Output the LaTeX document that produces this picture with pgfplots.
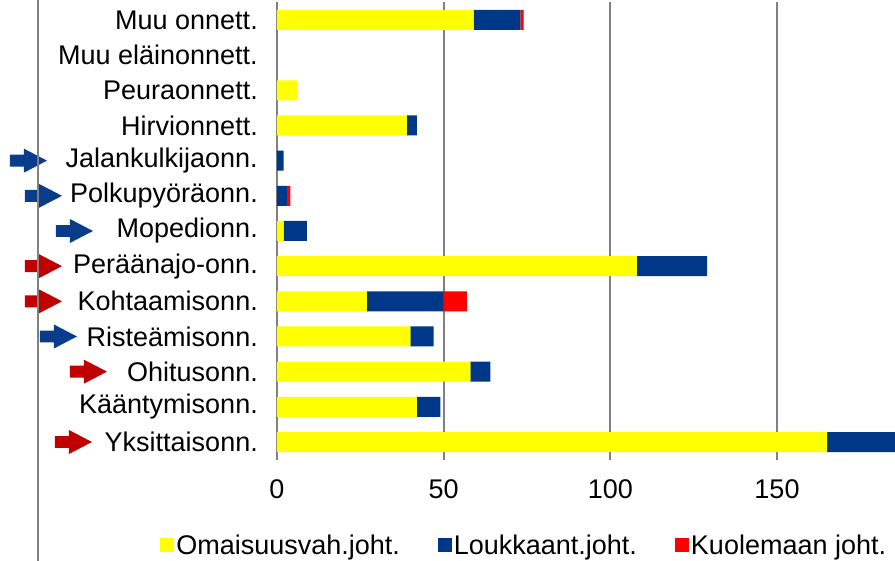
\documentclass[border=0pt]{standalone}
\usepackage{fontspec}
\setmainfont{Liberation Sans}
\usepackage{pgfplots}
\usepackage{pgfplotstable}
\pgfplotsset{compat=1.18}

\definecolor{barY}{RGB}{255,255,0}
\definecolor{barB}{RGB}{0,56,136}
\definecolor{barR}{RGB}{255,0,0}
\definecolor{arrB}{RGB}{10,60,140}
\definecolor{arrR}{RGB}{192,0,0}
\definecolor{gridgray}{RGB}{128,128,128}

\newcommand{\lbl}{\fontsize{27bp}{32bp}\selectfont}
% block arrow: tip x (axis units), row, colour
\newcommand{\arr}[3]{%
  \fill[#3] (axis cs:{#1-11.1},{#2+0.17}) -- (axis cs:{#1-6.9},{#2+0.17})
    -- (axis cs:{#1-6.9},{#2+0.34}) -- (axis cs:#1,#2)
    -- (axis cs:{#1-6.9},{#2-0.34}) -- (axis cs:{#1-6.9},{#2-0.17})
    -- (axis cs:{#1-11.1},{#2-0.17}) -- cycle;}

% O = omaisuusvahinko, L = loukkaantuminen, K = kuolema
\pgfplotstableread{
y O L K
0 165 21 0
1 42 7 0
2 58 6 0
3 40 7 0
4 27 23 7
5 108 21 0
6 2 7 0
7 0 3 1
8 0 2 0
9 39 3 0
10 6 0 0
11 0 0 0
12 59 14 1
}\data

\begin{document}
\begin{tikzpicture}
\begin{axis}[
    scale only axis,
    width=618bp, height=457.2bp,
    xbar stacked, bar width=20bp,
    xmin=0, xmax=185.4, ymin=-0.5, ymax=12.5,
    clip=false,
    xtick={0,50,100,150},
    ytick={0,...,12},
    yticklabels={Yksittaisonn., Kääntymisonn., Ohitusonn., Risteämisonn.,
        Kohtaamisonn., Peräänajo-onn., Mopedionn., Polkupyöräonn.,
        Jalankulkijaonn., Hirvionnett., Peuraonnett., Muu eläinonnett., Muu onnett.},
    axis line style={draw=none},
    major tick length=0pt,
    xmajorgrids, grid style={gridgray, line width=2bp},
    /pgf/number format/assume math mode=true,
    tick label style={font=\lbl, text=black},
    xticklabel style={inner sep=0pt, yshift=-20bp},
    yticklabel style={inner sep=0pt, anchor=east, xshift=-19bp},
    legend columns=3,
    legend style={draw=none, fill=none, font=\lbl,
        at={(rel axis cs:0.40,-0.187)}, anchor=center,
        /tikz/every even column/.append style={column sep=36bp}},
    legend image code/.code={\fill[#1] (0bp,-7bp) rectangle (14bp,7bp);},
]
\draw[gridgray, line width=2bp] (axis cs:-71.55,-3.383) -- (axis cs:-71.55,12.568);
\addplot[fill=barY, draw=none] table[x=O, y=y]{\data};
\addplot[fill=barB, draw=none] table[x=L, y=y]{\data};
\addplot[fill=barR, draw=none] table[x=K, y=y]{\data};
\legend{Omaisuusvah.joht., Loukkaant.joht., Kuolemaan joht.}
\arr{-69.0}{8}{arrB}
\arr{-64.5}{7}{arrB}
\arr{-55.2}{6}{arrB}
\arr{-60.0}{3}{arrB}
\arr{-64.5}{5}{arrR}
\arr{-64.5}{4}{arrR}
\arr{-51.0}{2}{arrR}
\arr{-55.5}{0}{arrR}
\coordinate (bl) at (axis cs:-83.1,-3.383);
\coordinate (tr) at (axis cs:185.4,12.568);
\end{axis}
\pgfresetboundingbox
\path[use as bounding box] (bl) rectangle (tr);
\end{tikzpicture}
\end{document}
